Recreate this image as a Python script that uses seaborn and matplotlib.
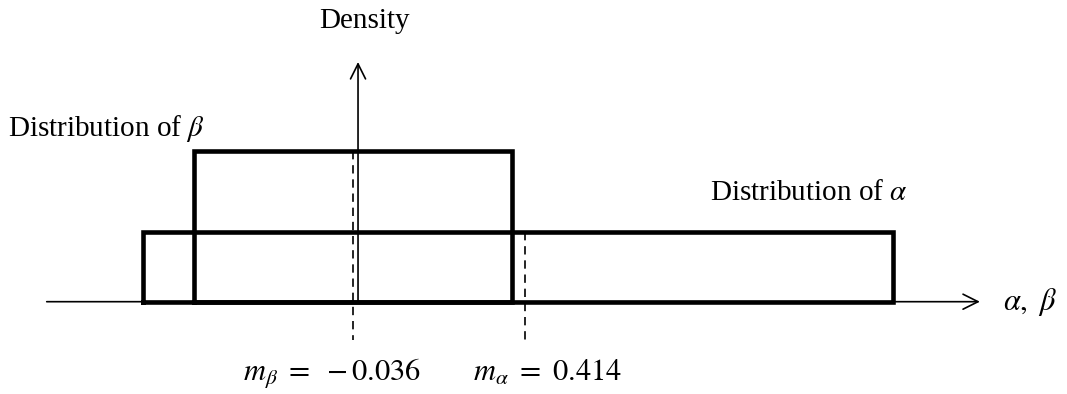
import matplotlib
matplotlib.use("Agg")
import matplotlib.pyplot as plt
import numpy as np
import pandas as pd
import seaborn as sns

# Uniform distributions of the two parameters (bounds on the horizontal axis)
beta_bounds = [-0.450, 0.381]
alpha_bounds = [-0.583, 1.376]
# Drawn heights of the two density boxes
beta_height = 1.2
alpha_height = 0.55
# Means marked with dashed lines
m_beta = -0.036
m_alpha = 0.414

labels = {
    "beta": r"Distribution of $\beta$",
    "alpha": r"Distribution of $\alpha$",
}


def box(name, bounds, height):
    lo, hi = bounds
    return pd.DataFrame({
        "x": [lo, lo, hi, hi, lo],
        "y": [0, height, height, 0, 0],
        "dist": name,
    })


boxes = pd.concat([box("alpha", alpha_bounds, alpha_height),
                   box("beta", beta_bounds, beta_height)], ignore_index=True)

sns.set_theme(style="white")
plt.rcParams["font.family"] = ["Liberation Serif", "DejaVu Serif"]
plt.rcParams["mathtext.fontset"] = "stix"
plt.rcParams["text.color"] = "black"

fig = plt.figure(figsize=(10.67, 3.94), dpi=100)
ax = fig.add_axes([0, 0, 1, 1])
ax.set_xlim(-0.957, 1.8295)
ax.set_ylim(-0.7337, 2.398)
ax.axis("off")

# Coordinate axes with open arrow heads
arrow = dict(arrowstyle="->,head_length=0.9,head_width=0.45", lw=1.2, color="black",
             shrinkA=0, shrinkB=0)
ax.annotate("", xy=(1.602, 0), xytext=(-0.835, 0), arrowprops=arrow)
ax.annotate("", xy=(-0.022, 1.905), xytext=(-0.022, 0), arrowprops=arrow)

# Density boxes
sns.lineplot(data=boxes, x="x", y="y", units="dist", estimator=None, sort=False,
             color="black", linewidth=3.3, ax=ax, legend=False)
for line in ax.lines:
    line.set_solid_joinstyle("miter")
    line.set_solid_capstyle("projecting")

# Mean markers
ax.plot([m_beta, m_beta], [beta_height, -0.304], color="black", lw=1.2,
        dashes=(5, 3.5))
ax.plot([m_alpha, m_alpha], [alpha_height, -0.304], color="black", lw=1.2,
        dashes=(5, 3.5))

fs = 21
ax.text(-0.004, 2.176, "Density", ha="center", va="baseline", fontsize=fs)
ax.text(-0.936, 1.317, labels["beta"], ha="left", va="baseline", fontsize=fs)
ax.text(0.897, 0.809, labels["alpha"], ha="left", va="baseline", fontsize=fs)
ax.text(1.663, 0.0, r"$\alpha,\ \beta$", ha="left", va="center", fontsize=fs + 1)
ax.text(-0.090, -0.63, r"$m_\beta\ =\ -0.036$",
        ha="center", va="baseline", fontsize=fs + 1)
ax.text(0.473, -0.63, r"$m_\alpha\ =\ 0.414$",
        ha="center", va="baseline", fontsize=fs + 1)

fig.savefig("out.png", dpi=100)
